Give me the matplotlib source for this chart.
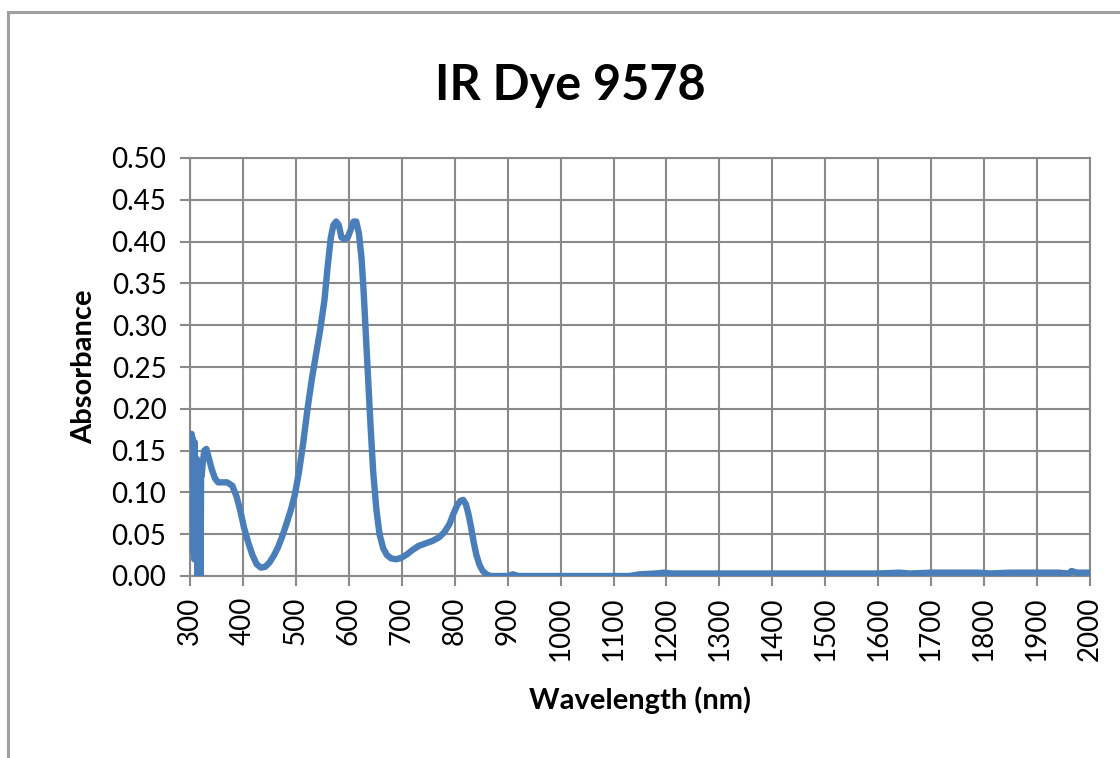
import numpy as np
import matplotlib
matplotlib.use('Agg')
from matplotlib import pyplot as plt
from matplotlib.lines import Line2D

# Data
wavelength = [300, 301, 302, 303, 304, 305, 306, 307, 308, 309, 310, 311, 312, 313, 314,
              315, 316, 317, 318, 319, 320, 321, 322, 324, 327, 331, 336, 341, 347, 353,
              360, 370, 380, 388,
              395, 402, 410, 418, 426, 434, 442, 450, 458, 466, 474, 482, 490, 498, 506,
              514, 522, 530, 538, 546, 554, 560, 566, 571, 576, 581, 586, 592, 598, 604,
              609, 614, 619, 624, 628, 632, 636, 641, 646, 652, 658, 665, 672, 680, 690,
              700, 710, 720, 732, 745, 758, 770, 780, 790, 798, 805, 811, 816, 821, 826,
              831, 836, 841, 847, 853, 860, 868, 880, 900, 910, 920, 1000, 1100, 1130,
              1150, 1180, 1195, 1210, 1300, 1400, 1500, 1600, 1640, 1660, 1700, 1750,
              1790, 1810, 1850, 1900, 1940, 1960, 1965, 1975, 2000]
absorbance = [0.05, 0.12, 0.04, 0.17, 0.03, 0.165, 0.06, 0.14, 0.02, 0.16, 0.05, 0.12, 0.03, 0.14,
              0.0, 0.125, 0.02, 0.13, 0.0, 0.12, 0.0, 0.13, 0.12, 0.135, 0.15, 0.152, 0.14,
              0.128, 0.117, 0.112, 0.112,
              0.112, 0.108, 0.095, 0.078, 0.058, 0.04, 0.025, 0.014, 0.01, 0.011, 0.016, 0.024,
              0.034, 0.047, 0.062, 0.078, 0.097, 0.125, 0.16, 0.2, 0.235, 0.265, 0.295, 0.33,
              0.37, 0.405, 0.42, 0.424, 0.42, 0.405, 0.403, 0.405, 0.415, 0.424, 0.424, 0.41,
              0.38, 0.34, 0.29, 0.24, 0.18, 0.125, 0.08, 0.05, 0.033, 0.025, 0.021, 0.02, 0.022,
              0.026, 0.031, 0.036, 0.039, 0.042, 0.046, 0.052, 0.062, 0.075, 0.085, 0.09, 0.091,
              0.086, 0.074, 0.058, 0.04, 0.025, 0.013, 0.006, 0.002, 0.0, 0.0, 0.0, 0.002, 0.0,
              0.0, 0.0, 0.0, 0.002, 0.003, 0.004, 0.003, 0.003, 0.003, 0.003, 0.003, 0.004,
              0.003, 0.004, 0.004, 0.004, 0.003, 0.004, 0.004, 0.004, 0.003, 0.006, 0.004, 0.004]

xticks = np.arange(300, 2001, 100)
yticks = np.arange(0, 0.501, 0.05)

plt.rcParams['font.family'] = ['Lato', 'DejaVu Sans']

fig = plt.figure(figsize=(11.2, 7.58), dpi=100)
ax = fig.add_axes([190/1120, 1-576/758, 900/1120, 418/758])

gridc = '#8a8a8a'
ax.plot(wavelength, absorbance, color='#4a7ebb', lw=4.6, solid_joinstyle='round',
        solid_capstyle='round', zorder=3)

ax.set_xlim(300, 2000)
ax.set_ylim(0, 0.5)
ax.set_xticks(xticks)
ax.set_yticks(yticks)
ax.set_xticklabels([str(t) for t in xticks], rotation=90)
ax.set_yticklabels(['%.2f' % t for t in yticks])
ax.grid(True, color=gridc, lw=1.5)
ax.set_axisbelow(True)
for s in ax.spines.values():
    s.set_color(gridc)
    s.set_linewidth(1.5)
ax.tick_params(direction='out', length=7, width=1.5, color=gridc, labelsize=20)
ax.tick_params(axis='y', pad=10)
ax.tick_params(axis='x', pad=8)

# title is centred on the whole chart, not on the plot area
fig.text(570/1120, 1-100/758, 'IR Dye 9578', fontsize=35, fontweight='bold', ha='center', va='baseline')
ax.set_xlabel('Wavelength (nm)', fontsize=21, fontweight='bold', labelpad=18)
ax.set_ylabel('Absorbance', fontsize=21, fontweight='bold', labelpad=10)

# chart border (top and left edge visible)
fig.add_artist(Line2D([8/1120, 1.0], [1-12/758, 1-12/758], color='#a0a0a0', lw=2.2))
fig.add_artist(Line2D([8/1120, 8/1120], [0.0, 1-12/758], color='#a0a0a0', lw=2.2))

plt.savefig('out.png', dpi=100)
